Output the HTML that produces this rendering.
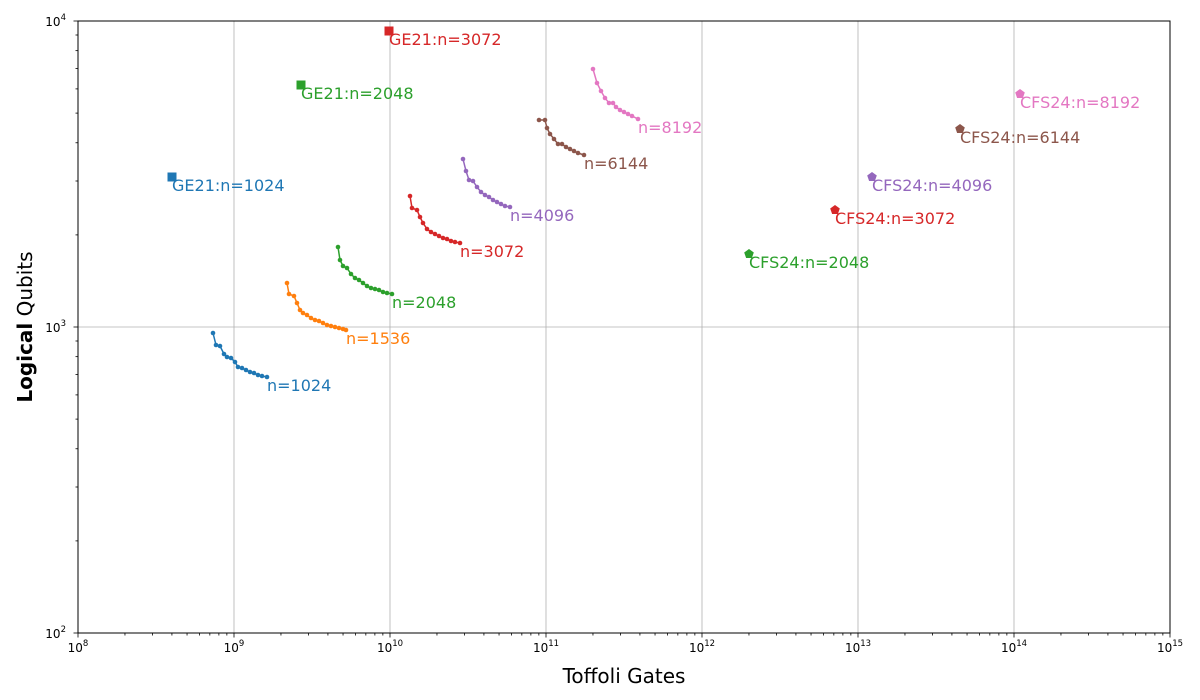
<!DOCTYPE html>
<html><head><meta charset="utf-8"><style>
body{margin:0;background:#fff;}
svg{display:block;font-family:"DejaVu Sans","Liberation Sans",sans-serif;}
</style></head><body>
<svg id="s" width="1200" height="700" xmlns="http://www.w3.org/2000/svg">
<rect width="1200" height="700" fill="#fff"/>
<g id="grid" stroke="#b0b0b0" stroke-width="0.8">
<line x1="234" y1="21" x2="234" y2="633"/><line x1="390" y1="21" x2="390" y2="633"/>
<line x1="546" y1="21" x2="546" y2="633"/><line x1="702" y1="21" x2="702" y2="633"/>
<line x1="858" y1="21" x2="858" y2="633"/><line x1="1014" y1="21" x2="1014" y2="633"/>
<line x1="78" y1="327" x2="1170" y2="327"/>
</g>
<g id="ticks" stroke="#000" stroke-width="0.8"></g>
<g id="data"></g>
<rect x="78" y="21" width="1092" height="612" fill="none" stroke="#000" stroke-width="1"/>
<g font-size="12" fill="#000" text-anchor="middle">
<text x="78" y="652">10<tspan dy="-6" font-size="8.5">8</tspan></text>
<text x="234" y="652">10<tspan dy="-6" font-size="8.5">9</tspan></text>
<text x="390" y="652">10<tspan dy="-6" font-size="8.5">10</tspan></text>
<text x="546" y="652">10<tspan dy="-6" font-size="8.5">11</tspan></text>
<text x="702" y="652">10<tspan dy="-6" font-size="8.5">12</tspan></text>
<text x="858" y="652">10<tspan dy="-6" font-size="8.5">13</tspan></text>
<text x="1014" y="652">10<tspan dy="-6" font-size="8.5">14</tspan></text>
<text x="1170" y="652">10<tspan dy="-6" font-size="8.5">15</tspan></text>
</g>
<g font-size="12" fill="#000" text-anchor="end">
<text x="66" y="26">10<tspan dy="-6" font-size="8.5">4</tspan></text>
<text x="66" y="332">10<tspan dy="-6" font-size="8.5">3</tspan></text>
<text x="66" y="638">10<tspan dy="-6" font-size="8.5">2</tspan></text>
</g>
<text x="624" y="683" font-size="20" text-anchor="middle">Toffoli Gates</text>
<text transform="translate(32,327) rotate(-90)" font-size="20" text-anchor="middle"><tspan font-weight="bold">Logical</tspan> Qubits</text>
</svg>
<script>
const NS="http://www.w3.org/2000/svg";
function el(p,t,a,txt){const e=document.createElementNS(NS,t);for(const k in a)e.setAttribute(k,a[k]);if(txt)e.textContent=txt;p.appendChild(e);return e;}
const tk=document.getElementById('ticks');
for(let d=0;d<7;d++){const x0=78+156*d;el(tk,'line',{x1:x0,y1:633,x2:x0,y2:637.5});
 for(let m=2;m<10;m++){const x=x0+156*Math.log10(m);el(tk,'line',{x1:x,y1:633,x2:x,y2:635.5});}}
el(tk,'line',{x1:1170,y1:633,x2:1170,y2:637.5});
for(let d=0;d<2;d++){const y0=633-306*d;el(tk,'line',{x1:78,y1:y0,x2:73.5,y2:y0});
 for(let m=2;m<10;m++){const y=y0-306*Math.log10(m);el(tk,'line',{x1:78,y1:y,x2:75.5,y2:y});}}
el(tk,'line',{x1:78,y1:21,x2:73.5,y2:21});
const g=document.getElementById('data');
const S=[
['#1f77b4','n=1024',[213,333,216,345,220,346,224,354,227,357,231,358,235,362,238,367,242,368,246,370,250,372,254,373,258,375,262,376,267,377]],
['#ff7f0e','n=1536',[287,283,289,294,294,296,297,303,300,310,303,313,307,315,311,318,315,320,319,321,323,323,327,325,331,326,335,327,339,328,343,329,346,330]],
['#2ca02c','n=2048',[338,247,340,260,343,266,347,268,351,274,355,278,359,280,363,283,367,286,371,288,375,289,379,290,383,292,387,293,392,294]],
['#d62728','n=3072',[410,196,412,208,417,210,420,217,423,223,427,229,431,232,435,234,439,236,443,238,447,239,451,241,455,242,460,243]],
['#9467bd','n=4096',[463,159,466,171,469,180,473,181,477,187,481,192,485,195,489,197,493,200,497,202,501,204,505,206,510,207]],
['#8c564b','n=6144',[539,120,545,120,547,128,550,134,554,139,558,144,562,144,566,147,570,149,574,151,578,153,584,155]],
['#e377c2','n=8192',[593,69,597,83,601,91,605,98,609,103,613,103,616,107,620,110,624,112,628,114,632,116,638,119]]];
for(const [c,l,p] of S){let pts=[];for(let i=0;i<p.length;i+=2)pts.push(p[i]+','+p[i+1]);
 el(g,'polyline',{points:pts.join(' '),fill:'none',stroke:c,'stroke-width':1.5});
 for(let i=0;i<p.length;i+=2)el(g,'circle',{cx:p[i],cy:p[i+1],r:2.3,fill:c});
 const lx=p[p.length-2],ly=p[p.length-1];el(g,'text',{x:lx,y:ly+14,fill:c,'font-size':16},l);}
const GE=[['#1f77b4','GE21:n=1024',172,177],['#2ca02c','GE21:n=2048',301,85],['#d62728','GE21:n=3072',389,31]];
for(const [c,l,x,y] of GE){el(g,'rect',{x:x-4.5,y:y-4.5,width:9,height:9,fill:c});el(g,'text',{x:x,y:y+14,fill:c,'font-size':16},l);}
const CF=[['#2ca02c','CFS24:n=2048',749,254],['#d62728','CFS24:n=3072',835,210],['#9467bd','CFS24:n=4096',872,177],['#8c564b','CFS24:n=6144',960,129],['#e377c2','CFS24:n=8192',1020,94]];
for(const [c,l,x,y] of CF){let pts=[];for(let k=0;k<5;k++){const a=-Math.PI/2+k*2*Math.PI/5;pts.push((x+5*Math.cos(a)).toFixed(1)+','+(y+5*Math.sin(a)).toFixed(1));}
 el(g,'polygon',{points:pts.join(' '),fill:c});el(g,'text',{x:x,y:y+14,fill:c,'font-size':16},l);}
</script>
</body></html>
